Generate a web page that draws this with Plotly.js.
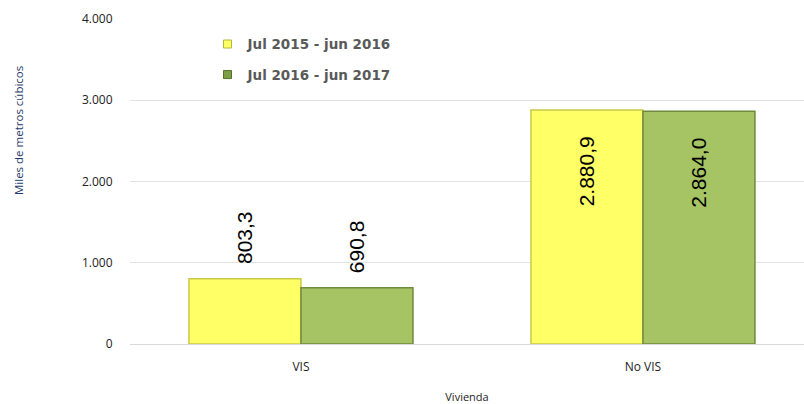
<!DOCTYPE html>
<html><head><meta charset="utf-8">
<script src="https://cdn.plot.ly/plotly-3.0.1.min.js"></script>
<style>body{margin:0;padding:0;background:#fff}#chart{width:804px;height:404px}</style>
</head><body><div id="chart"></div>
<script>
const categories = ['VIS', 'No VIS'];
const series1Name = 'Jul 2015 - jun 2016';
const series1Values = [803.3, 2880.9];
const series2Name = 'Jul 2016 - jun 2017';
const series2Values = [690.8, 2864.0];
const yTickVals = [0, 1000, 2000, 3000, 4000];
const colors1 = {fill: '#FFFF66', edge: '#C9C94A'};
const colors2 = {fill: '#A6C463', edge: '#6E8A3C'};

const NB = '\u00a0';
const FS = '\u2007';
const common = {
  type: 'bar', x: categories,
  texttemplate: NB + NB + '%{y:,.1f}' + FS + NB + NB,
  textangle: -90,
  textposition: ['outside', 'inside'], insidetextanchor: 'end',
  textfont: {family: 'Liberation Sans, Arial', size: 21, color: '#000'},
  cliponaxis: false, hoverinfo: 'skip', showlegend: false
};
const traces = [
  Object.assign({}, common, {name: series1Name, y: series1Values,
    marker: {color: colors1.fill, line: {color: colors1.edge, width: 1.5}}}),
  Object.assign({}, common, {name: series2Name, y: series2Values,
    marker: {color: colors2.fill, line: {color: colors2.edge, width: 1.5}}}),
  // legend entries (no visible data)
  {type: 'scatter', mode: 'markers', x: [categories[0]], y: [null], name: series1Name,
   legendgroup: 'a', showlegend: true, hoverinfo: 'skip',
   marker: {symbol: 'square', size: 8, color: colors1.fill, line: {color: '#B5B53A', width: 1}}},
  {type: 'scatter', mode: 'markers', x: [categories[0]], y: [null], name: series2Name,
   legendgroup: 'b', showlegend: true, hoverinfo: 'skip',
   marker: {symbol: 'square', size: 8, color: '#7E9E45', line: {color: '#56702C', width: 1}}}
];
const layout = {
  width: 804, height: 404,
  margin: {l: 130, r: 0, t: 19, b: 60},
  paper_bgcolor: '#fff', plot_bgcolor: '#fff',
  separators: ',.',
  barmode: 'group', bargap: 0.345, bargroupgap: 0,
  showlegend: true,
  legend: {x: 0.115, y: 0.97, xanchor: 'left', yanchor: 'top', traceorder: 'grouped', tracegroupgap: 10,
    font: {family: 'DejaVu Sans', size: 13.5, color: '#595959', weight: 'bold'},
    itemwidth: 30, bgcolor: 'rgba(0,0,0,0)'},
  xaxis: {
    range: [-0.5, 1.471],
    tickfont: {family: 'Open Sans, Liberation Sans', size: 12, color: '#222'},
    ticks: 'outside', ticklen: 12, tickcolor: 'rgba(0,0,0,0)',
    showline: false, showgrid: false, zeroline: false,
    title: {text: 'Vivienda', font: {family: 'Open Sans, Liberation Sans', size: 11, color: '#222'}, standoff: 18}
  },
  yaxis: {
    range: [0, 4000], tickvals: yTickVals, tickformat: ',d',
    tickfont: {family: 'Open Sans, Liberation Sans', size: 12, color: '#222'},
    ticks: 'outside', ticklen: 14, tickcolor: 'rgba(0,0,0,0)',
    showgrid: true, gridcolor: '#E3E3E3', gridwidth: 1,
    zeroline: true, zerolinecolor: '#D9D9D9', zerolinewidth: 1,
    showline: false
  },
  annotations: [{
    text: 'Miles de metros cúbicos', xref: 'paper', yref: 'paper',
    x: (18 - 130) / 674, y: (344 - 131) / 325, xanchor: 'center', yanchor: 'middle',
    textangle: -90, showarrow: false,
    font: {family: 'Open Sans, Liberation Sans', size: 11.5, color: '#1F3A6B'}
  }]
};
Plotly.newPlot('chart', traces, layout, {displayModeBar: false, staticPlot: true});
</script></body></html>
